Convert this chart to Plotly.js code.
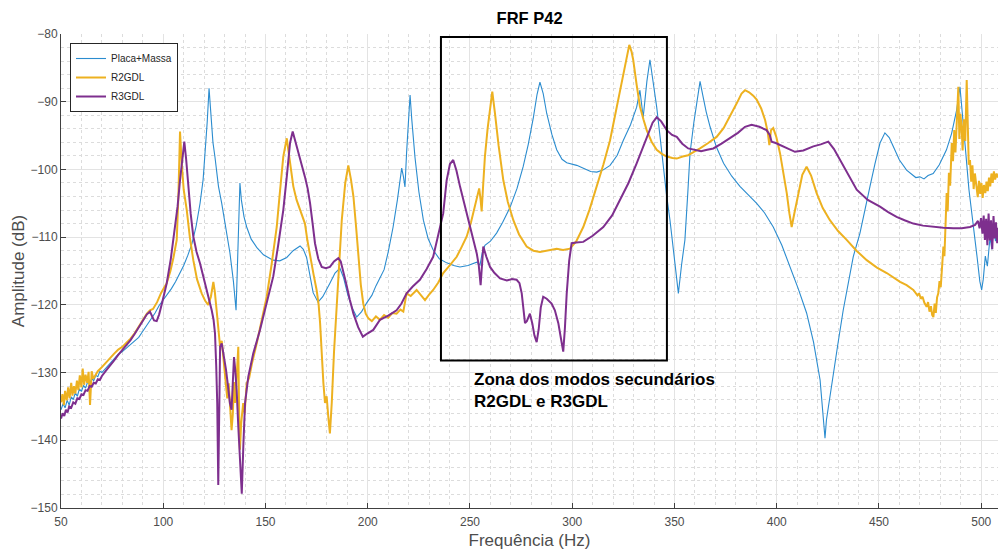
<!DOCTYPE html>
<html>
<head>
<meta charset="utf-8">
<script src="https://cdn.plot.ly/plotly-3.0.1.min.js"></script>
<style>html,body{margin:0;padding:0;background:#fff}#chart{width:998px;height:551px}</style>
</head>
<body>
<div id="chart"></div>
<script>
// Placa+Massa
const placaHz = [50,51,52,53,54,55,56,57,58,59,60,61,62,63,64,65,66,67,68,69,70,72,74,76,78,80,82,84,86,88,90,92,94,96,98,100,102,104,106,108,110,112,114,116,118,119.5,120.5,121.5,122.4,123.3,124.3,125.3,127,128.6,130.5,132.6,134.3,135.6,136.2,136.8,137.5,138.2,139.5,140.8,143,145.7,149,153.7,157,160.4,163.5,166.9,168.5,170.1,171.8,173.3,175.7,178,181.5,184,186.4,188.2,190.3,192.5,194.6,197,199.5,202,204,206,208,210,212.4,214.5,216,216.6,217.4,218.2,219,220,220.7,221.5,223.1,225,227.2,229.5,232,235,238.6,242,245.1,249,253.3,254.9,256,257.3,260,263,266,269.6,273,276,278.5,281,282.8,284.2,285.8,287.5,290,292.4,295,297.3,300,302.2,306,309,312,315,318.5,322,325,328.5,331.5,333.1,334.7,336.5,338,339.5,341.3,343,344.5,346,347.8,350,351.9,353.5,355.1,356.5,357.6,359.5,361.3,362.5,363.8,365.5,367.4,370.5,374,378,382,386,390.2,394,398.3,402.5,406.5,410.5,414.6,418,421.2,422.5,423.6,424.3,425.5,427.6,430,432.5,435,437.4,440.7,443,445.6,448,450.5,452.9,455,457,460,463.5,466.5,468,470,472,474,476.5,479.5,483,485.5,488,489.6,490.5,492,494,496,498,499.3,500.2,501,502,503,504.3,505.2,506,507,508];
const placaDb = [-135.5,-134.6,-135.2,-134.1,-134.8,-133.6,-134.0,-133.0,-133.5,-132.4,-132.8,-131.9,-132.3,-131.4,-131.7,-130.9,-131.2,-130.4,-130.6,-129.8,-130.0,-129.3,-128.6,-128.0,-127.3,-126.9,-126.4,-125.9,-125.4,-124.8,-123.9,-123.0,-122.2,-121.2,-120.1,-119.3,-118.5,-117.6,-116.6,-115.5,-114.2,-112.7,-111.0,-108.5,-105.0,-101.5,-97.6,-93,-88,-92.5,-96,-98.2,-102.5,-105,-108.5,-112.3,-116.5,-120.8,-115,-107,-102,-104.5,-107,-108.5,-110.3,-111.5,-112.6,-113.4,-113.5,-113,-112,-111.3,-111.8,-113,-115.5,-118.2,-119.6,-118.8,-116.8,-115.3,-114.6,-116,-118.6,-120.5,-121.8,-121,-119.7,-118.6,-117.2,-115.9,-114.8,-112.2,-108.5,-104.5,-100.8,-99.8,-101,-102.6,-97.5,-92,-89,-92.5,-98.2,-103.3,-107.5,-110.2,-111.9,-113.2,-113.8,-114.2,-114.4,-114.2,-113.7,-114.1,-112.3,-111.2,-110.6,-109.4,-107.8,-105.6,-102.8,-99.6,-96.3,-92.3,-88.9,-87.1,-88.8,-91.7,-94.8,-97.1,-98.5,-99,-99.2,-99.4,-99.9,-100.3,-100.4,-100.1,-99.4,-97.9,-95.7,-93.4,-90.8,-88.3,-92.3,-87,-83.8,-86.8,-90.8,-95.3,-99.6,-103.5,-107.5,-113.5,-118.3,-114,-110.4,-103.5,-97.6,-93,-89.5,-87,-89,-91.5,-93.7,-96.7,-99.1,-101,-102.5,-103.7,-105,-106.4,-108.5,-111.2,-114.4,-117.6,-121.2,-125.5,-131.1,-135.5,-139.7,-137,-134.5,-130.6,-125.6,-120.8,-116.6,-112.9,-109.4,-106,-102.5,-99.2,-96.1,-94.6,-95.3,-96.6,-98.6,-100.1,-100.8,-101.2,-101.1,-101.4,-100.9,-100.6,-99.3,-97.1,-94.7,-91.2,-87.8,-90.5,-96,-103,-108.5,-113,-116.5,-117.8,-116.2,-112.8,-114.3,-110,-111.8,-108.7,-110.6,-109.4];

// R2GDL
const r2Hz = [50,50.7,51.4,52,52.8,53.5,54.2,55,55.6,56.3,57,57.8,58.5,59.2,60,60.6,61.3,62,62.8,63.5,64.2,65,65.8,67,68,70,72,74,76,78,80,82,84,86,88,90,92,93.5,95,97,99,101.7,103.5,105,106.6,107.4,108.2,109,110,111.5,113,114.7,116.5,118.8,120.5,122,123.3,124.5,125.2,126.1,127,127.8,128.6,129.5,130.5,131.3,132,132.6,133.4,134,134.6,135.2,135.8,136.7,137.1,137.5,138.1,139.1,139.8,140.8,142,143.5,145.7,148,150.6,153,155.5,157,158.7,160.4,161.8,163.6,165.2,166.9,169.3,170.5,171.8,173.5,175,176,176.7,177.5,178.3,179.1,179.9,180.7,181.5,182,182.4,183.5,184.8,186,187.3,189,190.5,191.8,193,194.3,195.4,196.6,197.8,199,200.3,202,204,206,208,210,212,214.1,216,217.4,219,221,223.9,226,228,230,232,234.5,236.9,240,243.5,246,248.4,250.5,252.4,253.6,254.5,255.2,255.7,256.5,257.3,258.6,259.8,260.9,262.2,264,266.3,268.5,271.2,274,277.7,281,284.2,288,292.4,295.5,298.9,302,305.4,308.5,312,315.2,318.5,321,323.4,325.2,326.6,327.9,329,329.8,331.5,333.1,334.8,336.4,338.8,341.3,343.8,346.2,349,351.1,354,356.7,359.5,362.5,366.5,370.6,374,377.1,380.5,382.8,384.5,386.5,388.5,390.2,392.4,394.3,395.6,396.4,397.2,398.3,399.8,401.6,403.3,404.9,406.2,407.3,408.6,410.5,412.5,414.6,416.8,419.5,422.5,426,430,434.2,439,444,449,453.8,457,460.3,463.5,466.8,468.8,469.6,470.5,471.3,472.2,473.3,474,474.7,475.4,476,476.6,477.2,477.8,478.4,479,479.6,480.2,480.8,481.5,482,482.6,483.1,483.6,484.2,484.8,485.6,486.2,486.8,487.4,488,488.8,489.3,489.8,490.4,490.9,491.5,492.2,492.9,493.4,493.9,494.5,495.1,495.7,496.3,496.9,497.7,498.3,498.9,499.5,500.1,500.7,501.3,502,502.6,503.2,503.8,504.4,505,505.6,506.2,506.8,507.5,508.2];
const r2Db = [-134.4,-133.2,-134.8,-132.7,-134.1,-132.2,-133.8,-131.5,-133.4,-132.0,-133.1,-131.2,-132.6,-130.4,-132.2,-129.4,-131.8,-130.3,-131.5,-129.9,-134.8,-129.8,-130.9,-130.2,-129.8,-129.2,-128.5,-127.9,-127.2,-126.6,-126.2,-125.6,-125.0,-124.2,-123.2,-122.3,-121.3,-120.8,-120.6,-119.6,-118.2,-116.8,-115,-113,-110.4,-104,-94.4,-99,-103,-106,-110,-113.4,-116.2,-118.3,-119.4,-120,-118.8,-116.6,-118,-120.8,-123.5,-126.2,-125.3,-128.5,-131.5,-133.8,-131.6,-135.5,-138.5,-136.2,-131.4,-134.5,-130.8,-126.2,-136,-141.4,-137.5,-134.5,-136.0,-131.6,-130.8,-128.5,-125.7,-122.5,-118.8,-114,-108.5,-103.5,-98.1,-95.4,-98.5,-102.5,-104.5,-106,-108,-110.5,-112.9,-115.5,-117.8,-120,-122.7,-128.2,-131.5,-134.5,-133.5,-136.5,-139,-136.5,-134.5,-127,-119.8,-113,-107.5,-102,-99.4,-101.5,-104,-108.5,-112.9,-117,-119.8,-121.3,-122,-122.4,-121.7,-122.2,-121.5,-121.9,-121.2,-121.3,-120.7,-121,-118.3,-118.7,-117.8,-118.6,-119.3,-118.5,-117.8,-116.7,-115.3,-114.2,-112.9,-111.4,-109.9,-107.8,-105.5,-103.6,-102.8,-104.5,-106.2,-102,-98.1,-94,-90.7,-88.5,-91.7,-96.5,-101.6,-104.8,-107.5,-109.6,-111.4,-112,-112.2,-112,-111.7,-111.9,-111.7,-110.6,-108.5,-105.9,-102.5,-99.3,-95.7,-92,-88.3,-85.5,-83.3,-81.6,-82.6,-83.8,-87.5,-90.7,-92.6,-94.2,-95.9,-97.1,-97.7,-98.1,-98.3,-98.4,-98.1,-97.9,-97.4,-96.9,-96.1,-95.2,-93.9,-92.2,-90.2,-88.8,-88.3,-88.6,-89.1,-89.7,-91,-92.7,-94.5,-96.4,-94.2,-93.9,-95.2,-97.6,-100.5,-103.5,-106.5,-108.5,-106.5,-103.5,-100.8,-99.6,-100.9,-103.5,-105.7,-107.5,-109.1,-110.4,-112,-113.4,-114.5,-115.3,-116,-116.6,-117.1,-117.8,-118.6,-118.3,-119.1,-118.8,-119.7,-120.3,-119.6,-121,-120.2,-121.5,-121.8,-119.8,-121.2,-118.9,-118.3,-116.5,-117.4,-113.8,-111.4,-112.8,-107.5,-103.5,-106.2,-100.5,-102.4,-96.1,-98.8,-94.2,-97.5,-92,-87.8,-95.5,-91.8,-93.7,-97.2,-92.6,-95.8,-86.8,-96.4,-99.3,-98.6,-101.8,-99.4,-102.9,-100.6,-102.5,-104.1,-101.7,-103.6,-102,-104.2,-102.3,-103.5,-101.8,-103.2,-101.2,-102.5,-100.6,-102,-100.3,-101.5,-100.6,-101.2];

// R3GDL
const r3Hz = [50,50.8,51.6,52.4,53.2,54,55,56,57,58,59,60,61,62,63,64,65,66,67,68,69,70,72,74,76,78,80,82,84,86,88,90,92,93.5,94.5,95.5,96.8,98,99.5,101.7,103.7,105.7,107,108.2,109.3,110.3,111.2,112.2,113.4,114.7,116.3,118,119.6,121.2,122.5,123.7,124.6,125.3,125.9,126.4,126.9,127.3,127.8,128.6,129.6,130.7,131.6,132.6,133.4,134,134.6,135.2,135.9,136.7,137.5,138.4,139.2,140,141.6,144,147.3,150.5,153.8,156.2,158.7,160.4,162,163.3,164.6,166,167.6,169.3,170.6,171.8,173,174.2,175.8,177.5,179.5,181.5,183.5,185.6,186.8,188,189.5,191.2,193,195.3,197.6,200,202.7,206,210,214.1,216.5,219,222,225.5,228.8,232,234.5,236.9,238.6,240.2,241.8,243.4,245.1,247.5,250,251.8,253.3,254.3,255.2,255.9,256.5,258,259.8,262,264.7,268,270.5,272.8,274.2,275.3,276.1,276.9,277.8,279.3,280.5,281.5,282.6,283.6,284.6,285.8,287.5,289.9,291.5,293.2,294.5,295.6,296.4,297.3,298.5,299.7,302,305.4,310,315.2,319.5,323.4,327.5,331.5,334.5,337.2,339.3,341.3,343.5,346.2,348.8,351.1,353.8,356.7,359.2,363,366,369,373,377.1,381,384.5,387.7,391.5,395,396.6,397.5,399.5,401.6,405,408.9,413,417.9,421.5,425.2,428,430.9,434.5,439.1,444.5,450.5,454.5,458.6,462.5,466.8,471.5,476.6,481.5,486.3,490.5,494.5,497,498.4,499.2,499.9,500.6,501.2,501.8,502.4,503,503.6,504.2,504.8,505.4,506,506.6,507.2,507.8,508.2];
const r3Db = [-136.8,-136.0,-136.4,-135.5,-135.9,-135.0,-135.2,-134.4,-134.6,-133.8,-133.9,-133.2,-133.3,-132.6,-132.7,-132.0,-132.1,-131.5,-131.6,-131.0,-131.1,-130.5,-129.7,-129.0,-128.2,-127.4,-126.7,-126.0,-125.2,-124.3,-123.3,-122.4,-121.4,-121,-121.8,-122.3,-122.4,-121.4,-119.6,-116.8,-113.2,-109,-105.5,-101.6,-98.2,-95.9,-98.5,-102.5,-106.5,-109.9,-112.2,-113.9,-115.8,-117.8,-119.2,-120.8,-122.2,-124.2,-129,-134.5,-146.6,-137,-126.2,-125.7,-127.4,-129.6,-131.8,-134.5,-135.5,-131.5,-127.7,-129.6,-132.6,-138,-143.4,-147.9,-140.5,-134.5,-130.6,-127.2,-123.7,-119.8,-115.8,-111.2,-106,-101.1,-96.1,-94.4,-95.8,-97.6,-99.4,-101.1,-102.8,-105,-107.9,-110.9,-113.2,-114.4,-114.6,-114.4,-113.6,-113.1,-113.6,-114.9,-116.9,-119.2,-121.3,-123.3,-124.7,-124.2,-123.7,-122.2,-121.6,-120.8,-119.8,-118.3,-117.3,-116.3,-114.7,-112.9,-109.8,-106.5,-101.6,-99.2,-98.6,-100.2,-102.5,-105.5,-108.5,-110.6,-112.4,-114.2,-117.1,-114.0,-111.4,-112.9,-114.4,-115.3,-116.1,-116.4,-116.2,-116.3,-116.8,-118.3,-120.5,-122.7,-122.4,-121.3,-122.8,-124.5,-125.5,-123.6,-120.4,-118.8,-119.1,-119.8,-120.8,-122.7,-125,-126.9,-123.5,-118.3,-113.5,-110.9,-110.8,-110.7,-109.8,-108.5,-106.8,-104.5,-102,-99.1,-96.8,-94.7,-93.1,-92.3,-92.9,-94.2,-94.9,-95.2,-96.2,-96.9,-97.1,-97.3,-97.1,-96.9,-96.2,-95.4,-94.6,-93.7,-93.4,-93.7,-94.2,-94.9,-95.9,-96.1,-96.4,-96.9,-97.4,-97.2,-96.6,-96.3,-95.9,-97,-98.6,-100.6,-103,-104.5,-105.5,-106.3,-107,-107.5,-108,-108.3,-108.5,-108.6,-108.7,-108.7,-108.5,-108.2,-107.6,-108.7,-107.2,-109.5,-106.8,-110.4,-107.3,-111.2,-106.5,-110.5,-107.5,-111.8,-106.9,-110.2,-107.8,-110.9,-108.6];

const seriesNames = ['Placa+Massa', 'R2GDL', 'R3GDL'];
const chartTitle = 'FRF P42';
const xTitle = 'Frequência (Hz)';
const yTitle = 'Amplitude (dB)';
const zoneText = 'Zona dos modos secundários<br>R2GDL e R3GDL';
const zoneX = [235.8, 346.3];
const zoneY = [-128.2, -80.45];

const font = 'Liberation Sans, Arial, Helvetica, sans-serif';

const traces = [
  {x: placaHz, y: placaDb, name: seriesNames[0], type: 'scatter', mode: 'lines',
   line: {color: '#2b8ccf', width: 1.1}},
  {x: r2Hz, y: r2Db, name: seriesNames[1], type: 'scatter', mode: 'lines',
   line: {color: '#EDB120', width: 2}},
  {x: r3Hz, y: r3Db, name: seriesNames[2], type: 'scatter', mode: 'lines',
   line: {color: '#7E2F8E', width: 2}}
];

const axisCommon = {
  showline: true, linecolor: '#404040', linewidth: 1,
  ticks: 'inside', ticklen: 5, tickcolor: '#404040',
  showgrid: true, gridcolor: '#e3e3e3', gridwidth: 1,
  zeroline: false, mirror: false,
  tickfont: {family: font, size: 12, color: '#4d4d4d'}
};

const layout = {
  width: 998, height: 551,
  margin: {l: 61, r: 0, t: 34, b: 43},
  paper_bgcolor: '#ffffff', plot_bgcolor: '#ffffff',
  title: {text: '<b>' + chartTitle + '</b>', x: 0.5307, xanchor: 'center', y: 0.967, yanchor: 'middle',
          font: {family: font, size: 16.5, color: '#000'}},
  xaxis: Object.assign({}, axisCommon, {
    range: [50, 508.2], tickmode: 'linear', tick0: 50, dtick: 50, ticklabelstandoff: 3,
    minor: {dtick: 10, showgrid: true, gridcolor: '#dcdcdc', griddash: 'dot', gridwidth: 1},
    title: {text: xTitle, standoff: 5, font: {family: font, size: 17, color: '#4d4d4d'}}
  }),
  yaxis: Object.assign({}, axisCommon, {
    range: [-150, -80], tickmode: 'linear', tick0: -150, dtick: 10,
    minor: {dtick: 2, showgrid: true, gridcolor: '#dcdcdc', griddash: 'dot', gridwidth: 1},
    title: {text: yTitle, standoff: 1, font: {family: font, size: 17, color: '#4d4d4d'}}
  }),
  legend: {x: 0.0096, y: 0.981, xanchor: 'left', yanchor: 'top',
           bgcolor: '#ffffff', bordercolor: '#262626', borderwidth: 1,
           font: {family: font, size: 10, color: '#262626'}, tracegroupgap: 0},
  shapes: [{type: 'rect', xref: 'x', yref: 'y', x0: zoneX[0], x1: zoneX[1], y0: zoneY[0], y1: zoneY[1],
            line: {color: '#000', width: 2}, fillcolor: 'rgba(0,0,0,0)'}],
  annotations: [{xref: 'x', yref: 'y', x: 251, y: -129.3, xanchor: 'left', yanchor: 'top', align: 'left',
                 showarrow: false, text: '<b>' + zoneText + '</b>',
                 font: {family: font, size: 17, color: '#000'}}],
  showlegend: true
};

Plotly.newPlot('chart', traces, layout, {displayModeBar: false, staticPlot: true});
</script>
</body>
</html>
